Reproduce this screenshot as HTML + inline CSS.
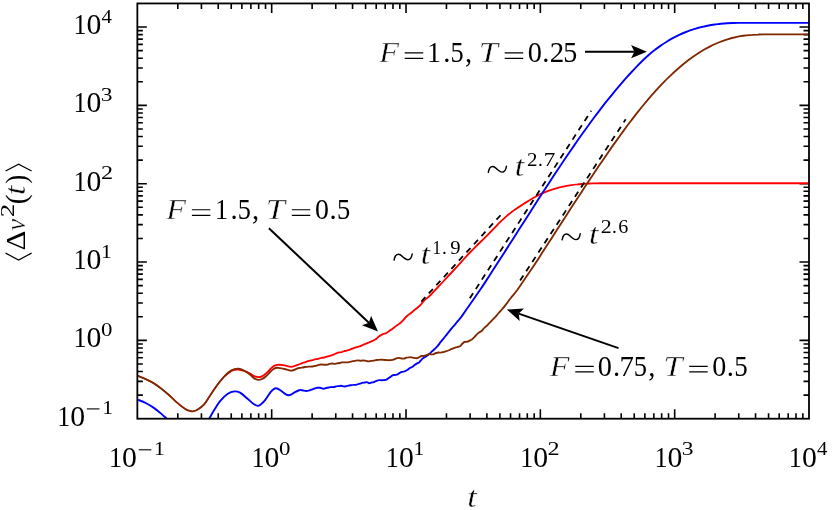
<!DOCTYPE html><html><head><meta charset="utf-8"><title>msd</title><style>html,body{margin:0;padding:0;background:#fff;}svg{display:block;font-family:"Liberation Serif",serif;will-change:transform;}</style></head><body>
<svg width="832" height="510" viewBox="0 0 832 510">
<rect width="832" height="510" fill="#fff"/>
<defs><clipPath id="c"><rect x="137.35" y="3.45" width="671.65" height="415.25"/></clipPath></defs>
<path d="M177.79,418.7 v-5.5 M177.79,3.45 v5.5 M137.35,395.12 h5.5 M809.0,395.12 h-5.5 M201.44,418.7 v-5.5 M201.44,3.45 v5.5 M137.35,381.33 h5.5 M809.0,381.33 h-5.5 M218.22,418.7 v-5.5 M218.22,3.45 v5.5 M137.35,371.54 h5.5 M809.0,371.54 h-5.5 M231.24,418.7 v-5.5 M231.24,3.45 v5.5 M137.35,363.95 h5.5 M809.0,363.95 h-5.5 M241.88,418.7 v-5.5 M241.88,3.45 v5.5 M137.35,357.74 h5.5 M809.0,357.74 h-5.5 M250.87,418.7 v-5.5 M250.87,3.45 v5.5 M137.35,352.50 h5.5 M809.0,352.50 h-5.5 M258.66,418.7 v-5.5 M258.66,3.45 v5.5 M137.35,347.96 h5.5 M809.0,347.96 h-5.5 M265.53,418.7 v-5.5 M265.53,3.45 v5.5 M137.35,343.95 h5.5 M809.0,343.95 h-5.5 M271.68,418.7 v-9.5 M271.68,3.45 v9.5 M137.35,340.37 h9.5 M809.0,340.37 h-9.5 M312.12,418.7 v-5.5 M312.12,3.45 v5.5 M137.35,316.79 h5.5 M809.0,316.79 h-5.5 M335.77,418.7 v-5.5 M335.77,3.45 v5.5 M137.35,302.99 h5.5 M809.0,302.99 h-5.5 M352.55,418.7 v-5.5 M352.55,3.45 v5.5 M137.35,293.20 h5.5 M809.0,293.20 h-5.5 M365.57,418.7 v-5.5 M365.57,3.45 v5.5 M137.35,285.61 h5.5 M809.0,285.61 h-5.5 M376.21,418.7 v-5.5 M376.21,3.45 v5.5 M137.35,279.41 h5.5 M809.0,279.41 h-5.5 M385.20,418.7 v-5.5 M385.20,3.45 v5.5 M137.35,274.17 h5.5 M809.0,274.17 h-5.5 M392.99,418.7 v-5.5 M392.99,3.45 v5.5 M137.35,269.62 h5.5 M809.0,269.62 h-5.5 M399.86,418.7 v-5.5 M399.86,3.45 v5.5 M137.35,265.62 h5.5 M809.0,265.62 h-5.5 M406.01,418.7 v-9.5 M406.01,3.45 v9.5 M137.35,262.03 h9.5 M809.0,262.03 h-9.5 M446.45,418.7 v-5.5 M446.45,3.45 v5.5 M137.35,238.45 h5.5 M809.0,238.45 h-5.5 M470.10,418.7 v-5.5 M470.10,3.45 v5.5 M137.35,224.66 h5.5 M809.0,224.66 h-5.5 M486.88,418.7 v-5.5 M486.88,3.45 v5.5 M137.35,214.87 h5.5 M809.0,214.87 h-5.5 M499.90,418.7 v-5.5 M499.90,3.45 v5.5 M137.35,207.28 h5.5 M809.0,207.28 h-5.5 M510.54,418.7 v-5.5 M510.54,3.45 v5.5 M137.35,201.08 h5.5 M809.0,201.08 h-5.5 M519.53,418.7 v-5.5 M519.53,3.45 v5.5 M137.35,195.83 h5.5 M809.0,195.83 h-5.5 M527.32,418.7 v-5.5 M527.32,3.45 v5.5 M137.35,191.29 h5.5 M809.0,191.29 h-5.5 M534.19,418.7 v-5.5 M534.19,3.45 v5.5 M137.35,187.28 h5.5 M809.0,187.28 h-5.5 M540.34,418.7 v-9.5 M540.34,3.45 v9.5 M137.35,183.70 h9.5 M809.0,183.70 h-9.5 M580.78,418.7 v-5.5 M580.78,3.45 v5.5 M137.35,160.12 h5.5 M809.0,160.12 h-5.5 M604.43,418.7 v-5.5 M604.43,3.45 v5.5 M137.35,146.32 h5.5 M809.0,146.32 h-5.5 M621.21,418.7 v-5.5 M621.21,3.45 v5.5 M137.35,136.54 h5.5 M809.0,136.54 h-5.5 M634.23,418.7 v-5.5 M634.23,3.45 v5.5 M137.35,128.95 h5.5 M809.0,128.95 h-5.5 M644.87,418.7 v-5.5 M644.87,3.45 v5.5 M137.35,122.74 h5.5 M809.0,122.74 h-5.5 M653.86,418.7 v-5.5 M653.86,3.45 v5.5 M137.35,117.50 h5.5 M809.0,117.50 h-5.5 M661.65,418.7 v-5.5 M661.65,3.45 v5.5 M137.35,112.96 h5.5 M809.0,112.96 h-5.5 M668.52,418.7 v-5.5 M668.52,3.45 v5.5 M137.35,108.95 h5.5 M809.0,108.95 h-5.5 M674.67,418.7 v-9.5 M674.67,3.45 v9.5 M137.35,105.36 h9.5 M809.0,105.36 h-9.5 M715.11,418.7 v-5.5 M715.11,3.45 v5.5 M137.35,81.78 h5.5 M809.0,81.78 h-5.5 M738.76,418.7 v-5.5 M738.76,3.45 v5.5 M137.35,67.99 h5.5 M809.0,67.99 h-5.5 M755.54,418.7 v-5.5 M755.54,3.45 v5.5 M137.35,58.20 h5.5 M809.0,58.20 h-5.5 M768.56,418.7 v-5.5 M768.56,3.45 v5.5 M137.35,50.61 h5.5 M809.0,50.61 h-5.5 M779.20,418.7 v-5.5 M779.20,3.45 v5.5 M137.35,44.41 h5.5 M809.0,44.41 h-5.5 M788.19,418.7 v-5.5 M788.19,3.45 v5.5 M137.35,39.16 h5.5 M809.0,39.16 h-5.5 M795.98,418.7 v-5.5 M795.98,3.45 v5.5 M137.35,34.62 h5.5 M809.0,34.62 h-5.5 M802.85,418.7 v-5.5 M802.85,3.45 v5.5 M137.35,30.62 h5.5 M809.0,30.62 h-5.5 M137.35,27.03 h9.5 M809.0,27.03 h-9.5" stroke="#000" stroke-width="1.6" fill="none"/>
<g clip-path="url(#c)" fill="none" stroke-linejoin="round" stroke-linecap="butt">
<path d="M137.2,375.6 C138.6,376.2 143.0,377.9 145.7,379.1 C148.4,380.4 150.9,381.5 153.5,383.1 C156.1,384.7 158.8,386.7 161.4,388.7 C164.0,390.7 166.6,392.9 169.2,395.2 C171.8,397.5 174.4,400.4 177.0,402.6 C179.6,404.9 182.9,407.4 184.9,408.7 C186.9,410.0 187.7,410.2 189.0,410.6 C190.3,411.0 191.3,411.5 192.7,411.4 C194.1,411.2 195.5,411.0 197.4,409.8 C199.3,408.6 202.3,406.4 204.2,404.3 C206.1,402.2 206.9,400.3 209.0,397.2 C211.1,394.1 214.3,389.0 216.9,385.5 C219.5,382.0 223.3,377.7 224.6,376.1" stroke="#ff0000" stroke-width="1.3"/>
<path d="M224.6,376.1 C225.8,375.2 229.6,371.8 231.9,370.7 C234.2,369.6 236.1,369.4 238.2,369.5 C240.3,369.6 242.5,370.3 244.5,371.0 C246.5,371.7 248.4,372.7 250.0,373.6 C251.6,374.5 252.6,375.6 254.0,376.2 C255.4,376.8 257.0,377.1 258.3,377.1 C259.6,377.1 260.8,376.9 262.0,376.3 C263.2,375.7 263.8,375.4 265.7,373.7 C267.6,372.0 271.4,367.8 273.5,366.3 C275.6,364.8 276.4,365.0 278.2,364.8 C280.0,364.6 282.3,365.1 284.5,365.4 C286.7,365.7 289.3,366.9 291.5,366.8 C293.7,366.7 296.1,365.4 297.5,364.9 C298.9,364.4 299.2,364.3 300.0,364.0 C300.8,363.7 301.6,363.5 302.3,363.2 C303.1,362.9 304.0,362.6 304.7,362.4 C305.5,362.1 305.9,361.9 306.6,361.6 C307.4,361.4 308.5,361.0 309.2,360.8 C310.0,360.6 310.6,360.5 311.3,360.3 C312.0,360.2 312.8,360.0 313.6,359.8 C314.3,359.6 315.1,359.4 315.9,359.2 C316.6,359.1 317.1,359.0 317.8,358.8 C318.6,358.6 319.6,358.3 320.5,358.1 C321.3,357.9 322.3,357.8 323.0,357.6 C323.7,357.5 324.2,357.5 324.9,357.3 C325.6,357.1 326.6,356.6 327.3,356.4 C328.0,356.3 328.5,356.4 329.1,356.2 C329.8,356.0 330.6,355.7 331.4,355.4 C332.2,355.1 333.2,354.7 334.1,354.4 C335.0,354.0 335.9,353.5 336.8,353.2 C337.6,352.9 338.5,352.6 339.3,352.4 C340.2,352.3 341.3,352.3 342.0,352.0 C342.8,351.8 343.3,351.3 344.0,351.1 C344.6,350.9 345.3,351.1 346.0,350.9 C346.7,350.8 347.5,350.4 348.2,350.2 C349.0,349.9 349.6,349.7 350.4,349.4 C351.1,349.1 351.8,348.7 352.6,348.5 C353.3,348.2 354.1,348.0 354.9,347.7 C355.8,347.5 356.7,347.2 357.6,346.9 C358.5,346.6 359.4,346.5 360.3,346.1 C361.2,345.8 362.3,345.1 363.1,344.8 C363.8,344.4 364.3,344.3 365.0,344.0 C365.8,343.7 366.9,343.3 367.8,342.9 C368.6,342.6 369.4,342.2 370.1,341.9 C370.9,341.6 371.4,341.5 372.2,341.1 C372.9,340.8 373.8,340.2 374.5,339.8 C375.2,339.4 375.7,339.3 376.4,338.7 C377.2,338.1 378.3,336.8 379.2,336.2 C380.1,335.5 381.0,335.1 381.8,334.7 C382.5,334.3 383.0,334.1 383.7,333.8 C384.5,333.6 385.5,333.5 386.3,333.1 C387.0,332.7 387.5,332.1 388.2,331.7 C388.8,331.2 389.4,330.8 390.0,330.4 C390.7,330.0 391.4,329.6 392.2,329.1 C393.0,328.5 394.0,327.7 394.9,326.9 C395.9,326.2 396.9,325.3 397.7,324.8 C398.5,324.2 399.0,324.0 399.6,323.6 C400.2,323.1 400.8,322.5 401.5,321.9 C402.2,321.2 403.0,320.4 403.7,319.6 C404.4,318.9 404.9,318.0 405.7,317.3 C406.4,316.5 407.4,315.7 408.3,314.9 C409.2,314.2 410.2,313.6 411.0,313.0 C411.9,312.3 412.5,311.7 413.2,311.1 C414.0,310.4 414.8,309.9 415.5,309.2 C416.3,308.6 417.1,307.9 417.9,307.2 C418.7,306.5 419.6,306.0 420.3,305.2 C421.1,304.4 421.8,303.4 422.6,302.4 C423.4,301.5 424.4,300.2 425.1,299.5 C425.9,298.7 426.5,298.5 427.3,297.9 C428.0,297.3 428.9,296.6 429.6,295.9 C430.3,295.3 430.7,294.8 431.4,294.1 C432.1,293.4 433.0,292.3 433.8,291.5 C434.6,290.6 435.5,289.7 436.2,289.0 C436.9,288.2 436.9,288.3 438.1,287.0 C439.4,285.6 440.5,284.5 443.7,281.0 C446.9,277.5 454.2,269.6 457.5,266.1 C460.8,262.5 461.5,261.7 463.5,259.5 C465.5,257.3 467.5,255.1 469.5,253.0 C471.5,250.9 473.5,248.8 475.5,246.8 C477.5,244.8 479.5,242.9 481.5,241.0 C483.5,239.0 485.5,237.1 487.5,235.1 C489.5,233.1 491.5,231.0 493.5,228.9 C495.5,226.9 497.5,224.7 499.5,222.7 C501.5,220.8 503.5,218.9 505.5,217.1 C507.5,215.3 509.5,213.7 511.5,212.1 C513.5,210.6 515.5,209.3 517.5,207.9 C519.5,206.6 521.5,205.3 523.5,204.0 C525.5,202.8 527.5,201.5 529.5,200.3 C531.5,199.0 533.5,197.9 535.5,196.8 C537.5,195.7 539.5,194.7 541.5,193.7 C543.5,192.8 545.5,192.0 547.5,191.2 C549.5,190.4 551.5,189.7 553.5,189.1 C555.5,188.5 557.5,187.9 559.5,187.4 C561.5,186.9 563.5,186.5 565.5,186.1 C567.5,185.7 569.5,185.4 571.5,185.1 C573.5,184.8 575.5,184.6 577.5,184.4 C579.5,184.1 581.5,184.0 583.5,183.8 C585.5,183.7 587.5,183.6 589.5,183.5 C591.5,183.4 593.5,183.4 595.5,183.3 C597.5,183.3 599.5,183.3 601.5,183.2 C603.5,183.2 605.5,183.2 607.5,183.2 C609.5,183.2 611.5,183.2 613.5,183.2 C615.5,183.2 617.5,183.2 619.5,183.2 C621.5,183.2 623.5,183.2 625.5,183.2 C627.5,183.2 629.5,183.2 631.5,183.2 C633.5,183.2 635.5,183.2 637.5,183.2 C639.5,183.2 641.5,183.2 643.5,183.2 C645.5,183.2 648.4,183.2 649.5,183.2 C650.6,183.2 623.4,183.2 650.0,183.2 C676.6,183.2 782.5,183.2 809.0,183.2" stroke="#ff0000" stroke-width="1.85"/>
<path d="M137.2,399.5 C138.6,400.1 143.0,401.6 145.7,403.0 C148.4,404.4 150.9,405.8 153.5,407.6 C156.1,409.4 159.3,412.1 161.4,413.9 C163.5,415.7 164.9,417.0 166.3,418.2 C167.7,419.4 166.1,418.2 170.0,421.0 C173.9,423.8 184.1,434.3 190.0,435.0 C195.9,435.7 202.3,427.8 205.5,425.0 C208.7,422.2 207.9,421.0 209.3,418.5 C210.8,416.0 212.3,413.0 214.2,410.0 C216.1,407.0 218.2,403.3 220.5,400.6 C222.8,397.9 225.5,395.2 227.8,393.7 C230.1,392.2 232.5,391.6 234.5,391.4 C236.5,391.2 237.8,391.5 240.0,392.7 C242.2,393.9 245.4,397.0 247.6,398.8 C249.8,400.6 251.3,402.3 253.0,403.5 C254.7,404.7 256.5,405.8 257.8,405.9 C259.1,406.0 259.8,405.1 261.0,404.2 C262.2,403.3 263.2,402.5 264.9,400.4 C266.6,398.3 269.2,393.7 271.0,391.7 C272.8,389.7 274.2,388.4 275.9,388.3 C277.6,388.2 279.8,390.0 281.4,391.0 C283.0,392.0 284.3,393.4 285.5,394.1 C286.7,394.8 287.6,395.2 288.6,395.2 C289.6,395.2 290.6,394.8 291.6,394.3 C292.6,393.8 293.2,393.0 294.6,392.3 C296.0,391.6 298.8,390.3 300.0,390.0 C301.2,389.6 301.3,390.2 302.0,390.3 C302.6,390.4 303.2,390.5 303.9,390.6 C304.6,390.8 305.3,391.0 306.1,391.0 C306.8,391.0 307.6,390.9 308.4,390.7 C309.1,390.5 309.9,390.1 310.6,389.9 C311.3,389.7 311.8,389.6 312.5,389.3 C313.3,389.0 314.4,388.6 315.1,388.3 C315.9,388.1 316.4,387.9 317.2,387.8 C318.0,387.7 319.1,387.7 319.9,387.8 C320.7,387.9 321.4,388.2 322.1,388.4 C322.8,388.5 323.3,388.8 324.0,388.7 C324.6,388.6 325.4,388.1 326.1,388.0 C326.8,387.8 327.3,387.8 328.0,387.7 C328.8,387.5 329.8,387.2 330.6,387.1 C331.5,387.0 332.2,387.1 333.0,387.1 C333.8,387.0 334.5,386.9 335.2,386.8 C335.9,386.6 336.4,386.2 337.1,386.1 C337.7,386.0 338.4,386.2 339.1,386.1 C339.8,386.0 340.6,385.7 341.3,385.7 C342.1,385.8 343.0,386.3 343.7,386.4 C344.5,386.5 345.1,386.5 345.8,386.4 C346.6,386.3 347.5,385.8 348.3,385.6 C349.1,385.4 349.9,385.3 350.7,385.2 C351.5,385.1 352.5,384.9 353.3,384.9 C354.1,384.8 354.8,385.0 355.4,384.9 C356.1,384.8 356.6,384.6 357.4,384.4 C358.1,384.2 359.1,384.0 359.9,383.7 C360.7,383.4 361.4,383.0 362.2,382.8 C363.0,382.6 363.9,382.6 364.7,382.5 C365.5,382.4 366.3,382.0 367.0,382.1 C367.8,382.2 368.4,383.1 369.2,383.2 C369.9,383.2 370.8,382.7 371.5,382.5 C372.3,382.3 373.0,382.4 373.8,382.1 C374.6,381.8 375.7,381.1 376.5,380.8 C377.4,380.4 378.1,380.1 379.0,380.1 C379.8,380.0 380.6,380.3 381.5,380.3 C382.3,380.3 383.4,380.1 384.2,380.0 C385.0,379.9 385.6,380.0 386.3,379.7 C387.1,379.3 388.0,378.5 388.8,378.0 C389.6,377.5 390.3,377.0 391.0,376.5 C391.7,376.0 392.2,375.3 393.0,375.1 C393.7,374.8 394.8,375.1 395.5,374.9 C396.3,374.8 396.8,374.8 397.6,374.4 C398.4,374.0 399.4,373.0 400.2,372.6 C401.0,372.1 401.7,372.0 402.5,371.8 C403.3,371.6 404.3,371.5 405.1,371.2 C406.0,370.8 407.0,370.1 407.8,369.6 C408.6,369.1 409.2,368.5 410.0,368.0 C410.8,367.5 411.9,367.2 412.7,366.7 C413.4,366.2 414.0,365.4 414.6,364.9 C415.3,364.4 416.0,364.0 416.7,363.6 C417.4,363.2 418.2,363.1 419.0,362.5 C419.7,361.9 420.3,360.8 421.1,360.1 C421.8,359.3 422.5,358.6 423.3,358.0 C424.0,357.4 424.8,357.1 425.6,356.6 C426.4,356.1 427.3,355.5 428.1,354.9 C428.9,354.3 429.8,353.5 430.5,352.9 C431.2,352.2 431.7,351.7 432.4,351.0 C433.2,350.4 434.1,349.5 435.0,348.7 C435.8,347.9 436.7,347.1 437.5,346.2 C438.3,345.3 439.0,344.2 439.7,343.2 C440.5,342.2 441.5,341.0 442.2,340.1 C442.9,339.2 443.4,338.5 444.1,337.8 C444.7,337.0 445.4,336.2 446.1,335.4 C446.7,334.6 447.3,333.7 448.0,332.9 C448.6,332.1 449.2,331.4 449.9,330.5 C450.6,329.7 451.3,328.8 452.1,327.8 C452.9,326.9 454.0,325.8 454.8,324.9 C455.5,324.0 456.0,323.2 456.7,322.4 C457.4,321.5 458.2,320.6 458.9,319.8 C459.6,318.9 460.1,318.5 460.8,317.5 C461.6,316.5 462.8,314.8 463.6,313.6 C464.4,312.4 465.2,311.3 465.9,310.2 C466.6,309.2 467.1,308.4 467.8,307.5 C468.5,306.5 467.7,307.6 469.9,304.5 C472.0,301.4 477.9,293.1 480.7,289.0 C483.5,284.9 484.7,282.9 486.7,279.9 C488.7,276.8 490.7,273.7 492.7,270.6 C494.7,267.5 496.7,264.4 498.7,261.3 C500.7,258.2 502.7,255.1 504.7,252.0 C506.7,248.8 508.7,245.7 510.7,242.6 C512.7,239.4 514.7,236.3 516.7,233.2 C518.7,230.0 520.7,226.9 522.7,223.8 C524.7,220.6 526.7,217.5 528.7,214.4 C530.7,211.3 532.7,208.1 534.7,205.0 C536.7,201.9 538.7,198.8 540.7,195.7 C542.7,192.6 544.7,189.5 546.7,186.5 C548.7,183.4 550.7,180.4 552.7,177.3 C554.7,174.3 556.7,171.3 558.7,168.3 C560.7,165.3 562.7,162.3 564.7,159.3 C566.7,156.3 568.7,153.4 570.7,150.5 C572.7,147.6 574.7,144.7 576.7,141.8 C578.7,138.9 580.7,136.1 582.7,133.3 C584.7,130.5 586.7,127.7 588.7,125.0 C590.7,122.2 592.7,119.5 594.7,116.8 C596.7,114.2 598.7,111.5 600.7,108.9 C602.7,106.3 604.7,103.7 606.7,101.2 C608.7,98.7 610.7,96.2 612.7,93.8 C614.7,91.3 616.7,88.9 618.7,86.6 C620.7,84.2 622.7,81.9 624.7,79.6 C626.7,77.4 628.7,75.1 630.7,73.0 C632.7,70.8 634.7,68.7 636.7,66.6 C638.7,64.5 640.7,62.4 642.7,60.5 C644.7,58.6 646.7,56.7 648.7,55.0 C650.7,53.2 652.7,51.6 654.7,50.1 C656.7,48.5 658.7,47.0 660.7,45.6 C662.7,44.2 664.7,42.9 666.7,41.7 C668.7,40.4 670.7,39.3 672.7,38.2 C674.7,37.1 676.7,36.1 678.7,35.1 C680.7,34.2 682.7,33.3 684.7,32.5 C686.7,31.7 688.7,30.9 690.7,30.2 C692.7,29.5 694.7,28.9 696.7,28.3 C698.7,27.8 700.7,27.2 702.7,26.8 C704.7,26.3 706.7,25.9 708.7,25.5 C710.7,25.1 712.7,24.8 714.7,24.5 C716.7,24.3 718.7,24.0 720.7,23.8 C722.7,23.6 724.7,23.4 726.7,23.3 C728.7,23.2 730.7,23.1 732.7,23.0 C734.7,22.9 736.7,22.9 738.7,22.9 C740.7,22.9 742.7,22.9 744.7,22.9 C746.7,22.9 748.7,22.9 750.7,22.9 C752.7,22.9 754.7,22.9 756.7,22.9 C758.7,22.9 760.7,22.9 762.7,22.9 C764.7,22.9 766.7,22.9 768.7,22.9 C770.7,22.9 772.7,22.9 774.7,22.9 C776.7,22.9 778.7,22.9 780.7,22.9 C782.7,22.9 785.2,22.9 786.7,22.9 C788.2,22.9 786.3,22.9 790.0,22.9 C793.7,22.9 805.8,22.9 809.0,22.9" stroke="#0000ff" stroke-width="1.9"/>
<path d="M137.2,375.6 C138.6,376.2 143.0,377.9 145.7,379.1 C148.4,380.4 150.9,381.5 153.5,383.1 C156.1,384.7 158.8,386.7 161.4,388.7 C164.0,390.7 166.6,392.9 169.2,395.2 C171.8,397.5 174.4,400.4 177.0,402.6 C179.6,404.9 182.9,407.4 184.9,408.7 C186.9,410.0 187.7,410.2 189.0,410.6 C190.3,411.0 191.3,411.5 192.7,411.4 C194.1,411.2 195.5,411.0 197.4,409.8 C199.3,408.6 202.3,406.4 204.2,404.3 C206.1,402.2 206.9,400.3 209.0,397.2 C211.1,394.1 214.3,389.0 216.9,385.5 C219.5,382.0 222.1,378.7 224.6,376.1 C227.1,373.5 229.6,371.3 231.9,370.1 C234.2,368.9 236.1,368.6 238.2,368.7 C240.3,368.8 242.5,369.8 244.5,370.8 C246.5,371.8 248.4,373.4 250.0,374.6 C251.6,375.8 252.6,377.3 254.0,378.2 C255.4,379.1 257.0,379.8 258.3,379.9 C259.6,380.0 260.8,379.6 262.0,379.0 C263.2,378.4 263.8,378.2 265.7,376.5 C267.6,374.8 271.4,370.4 273.5,369.0 C275.6,367.6 276.4,367.8 278.2,367.8 C280.0,367.8 282.3,368.5 284.5,369.0 C286.7,369.5 289.3,370.8 291.5,370.7 C293.7,370.6 296.1,368.9 297.5,368.4 C298.9,367.9 299.2,368.1 300.0,367.9 C300.8,367.8 301.7,367.6 302.5,367.5 C303.4,367.3 304.3,367.2 305.2,367.0 C306.1,366.9 307.1,366.7 307.9,366.7 C308.7,366.6 309.4,366.6 310.2,366.6 C311.0,366.6 311.9,366.6 312.6,366.5 C313.4,366.4 313.9,366.2 314.6,366.0 C315.2,365.9 315.9,365.8 316.6,365.6 C317.4,365.4 318.3,365.0 319.0,364.8 C319.7,364.7 320.3,364.5 321.0,364.5 C321.8,364.5 322.9,364.6 323.7,364.7 C324.5,364.7 325.1,364.8 325.7,364.7 C326.4,364.7 327.0,364.7 327.7,364.6 C328.3,364.4 328.9,364.0 329.6,363.9 C330.4,363.7 331.5,363.5 332.3,363.5 C333.1,363.5 333.5,363.9 334.3,363.9 C335.1,363.9 336.1,363.5 337.0,363.3 C337.9,363.2 338.8,363.2 339.7,363.0 C340.5,362.9 341.3,362.5 342.1,362.4 C343.0,362.3 343.9,362.4 344.9,362.4 C345.8,362.4 346.8,362.5 347.6,362.4 C348.4,362.3 349.0,362.0 349.7,361.9 C350.4,361.7 351.0,361.5 351.7,361.4 C352.3,361.2 352.9,361.2 353.6,361.1 C354.3,361.0 355.2,360.7 356.0,360.6 C356.8,360.5 357.7,360.4 358.4,360.4 C359.2,360.4 359.8,360.7 360.6,360.7 C361.3,360.7 362.1,360.5 362.9,360.5 C363.6,360.5 364.4,360.6 365.1,360.7 C365.8,360.8 366.4,361.1 367.0,361.2 C367.7,361.3 368.1,361.4 368.9,361.4 C369.6,361.3 370.6,361.0 371.5,360.9 C372.4,360.8 373.3,360.7 374.1,360.6 C374.9,360.5 375.7,360.2 376.4,360.0 C377.2,359.9 377.6,359.9 378.3,359.9 C379.1,359.8 380.2,359.6 381.0,359.6 C381.9,359.6 382.7,359.9 383.6,359.9 C384.5,360.0 385.5,359.9 386.3,360.0 C387.1,360.0 387.7,360.2 388.5,360.2 C389.2,360.2 390.2,360.2 391.0,360.1 C391.9,360.0 392.7,359.9 393.5,359.6 C394.4,359.4 395.3,358.7 396.2,358.3 C397.1,358.0 398.1,357.8 398.9,357.8 C399.7,357.8 400.2,358.3 401.0,358.4 C401.8,358.5 402.8,358.7 403.7,358.6 C404.6,358.5 405.6,357.8 406.4,357.6 C407.2,357.4 407.8,357.4 408.5,357.4 C409.2,357.3 409.9,357.1 410.5,357.2 C411.2,357.2 411.7,357.4 412.5,357.6 C413.3,357.7 414.5,358.0 415.3,358.1 C416.0,358.2 416.5,358.4 417.2,358.2 C417.9,358.0 418.8,357.4 419.5,357.0 C420.2,356.6 420.8,356.2 421.5,356.0 C422.3,355.8 423.3,356.1 424.1,355.9 C425.0,355.7 425.6,355.3 426.4,355.0 C427.2,354.7 428.2,354.2 429.1,354.1 C429.9,354.0 430.6,354.3 431.4,354.4 C432.1,354.4 432.5,354.5 433.3,354.3 C434.1,354.1 435.1,353.3 436.0,353.0 C436.9,352.8 437.8,352.6 438.6,352.5 C439.4,352.4 440.0,352.7 440.8,352.6 C441.6,352.6 442.6,352.3 443.4,352.1 C444.3,351.8 444.9,351.6 445.7,351.3 C446.5,351.1 447.5,350.8 448.3,350.5 C449.1,350.2 449.8,349.8 450.6,349.4 C451.4,349.1 452.3,348.7 453.1,348.4 C453.9,348.1 454.5,347.8 455.2,347.6 C455.9,347.4 456.4,347.3 457.2,347.0 C458.0,346.8 459.1,346.7 459.9,346.2 C460.8,345.6 461.6,344.4 462.3,343.7 C463.1,343.0 463.8,342.3 464.5,341.9 C465.2,341.6 465.8,342.0 466.6,341.9 C467.4,341.7 468.4,341.3 469.2,340.9 C470.1,340.5 470.9,340.2 471.8,339.6 C472.6,339.0 473.4,338.1 474.3,337.2 C475.1,336.3 476.0,335.1 476.8,334.3 C477.6,333.5 478.5,332.9 479.3,332.3 C480.1,331.8 480.8,331.7 481.6,331.0 C482.4,330.3 483.2,328.9 484.1,328.1 C484.9,327.2 485.9,326.7 486.8,325.9 C487.6,325.0 488.4,324.1 489.1,323.2 C489.9,322.4 490.7,321.7 491.5,320.9 C492.3,320.1 493.1,319.3 493.9,318.4 C494.8,317.5 495.7,316.6 496.5,315.6 C497.4,314.6 498.3,313.5 499.1,312.5 C499.9,311.6 500.7,310.9 501.5,310.0 C502.4,309.0 503.3,308.0 504.1,306.9 C505.0,305.8 505.9,304.5 506.8,303.4 C507.6,302.2 508.4,301.1 509.2,300.0 C510.1,298.8 511.1,297.6 511.9,296.6 C512.8,295.6 513.5,294.8 514.3,293.8 C515.1,292.8 516.1,291.6 516.9,290.5 C517.7,289.4 515.9,291.9 519.2,287.2 C522.4,282.4 532.4,267.7 536.3,262.0 C540.2,256.2 540.3,255.7 542.3,252.6 C544.3,249.5 546.3,246.4 548.3,243.3 C550.3,240.2 552.3,237.1 554.3,234.0 C556.3,230.9 558.3,227.8 560.3,224.7 C562.3,221.6 564.3,218.5 566.3,215.4 C568.3,212.3 570.3,209.2 572.3,206.1 C574.3,203.1 576.3,200.0 578.3,197.0 C580.3,193.9 582.3,190.9 584.3,187.8 C586.3,184.8 588.3,181.8 590.3,178.8 C592.3,175.8 594.3,172.8 596.3,169.8 C598.3,166.8 600.3,163.9 602.3,160.9 C604.3,158.0 606.3,155.1 608.3,152.2 C610.3,149.3 612.3,146.4 614.3,143.6 C616.3,140.8 618.3,138.0 620.3,135.2 C622.3,132.5 624.3,129.7 626.3,127.0 C628.3,124.4 630.3,121.7 632.3,119.1 C634.3,116.5 636.3,113.9 638.3,111.4 C640.3,108.9 642.3,106.4 644.3,104.0 C646.3,101.6 648.3,99.2 650.3,96.9 C652.3,94.6 654.3,92.4 656.3,90.2 C658.3,88.0 660.3,85.8 662.3,83.7 C664.3,81.7 666.3,79.6 668.3,77.7 C670.3,75.7 672.3,73.9 674.3,72.0 C676.3,70.2 678.3,68.4 680.3,66.7 C682.3,65.0 684.3,63.4 686.3,61.8 C688.3,60.2 690.3,58.7 692.3,57.3 C694.3,55.8 696.3,54.5 698.3,53.2 C700.3,51.9 702.3,50.7 704.3,49.5 C706.3,48.4 708.3,47.3 710.3,46.3 C712.3,45.3 714.3,44.4 716.3,43.5 C718.3,42.6 720.3,41.8 722.3,41.1 C724.3,40.4 726.3,39.7 728.3,39.1 C730.3,38.5 732.3,37.9 734.3,37.5 C736.3,37.0 738.3,36.6 740.3,36.2 C742.3,35.9 744.3,35.6 746.3,35.3 C748.3,35.1 750.3,34.9 752.3,34.8 C754.3,34.6 756.3,34.5 758.3,34.5 C760.3,34.4 762.3,34.4 764.3,34.4 C766.3,34.4 768.3,34.4 770.3,34.4 C772.3,34.4 774.3,34.4 776.3,34.4 C778.3,34.4 780.3,34.4 782.3,34.4 C784.3,34.4 786.3,34.4 788.3,34.4 C790.3,34.4 792.3,34.4 794.3,34.4 C796.2,34.4 797.5,34.4 800.0,34.4 C802.5,34.4 807.5,34.4 809.0,34.4" stroke="#802800" stroke-width="1.85"/>
<path d="M421.3,301.6 L500.6,215.2" stroke="#000" stroke-width="1.8" stroke-dasharray="6 5.12"/>
<path d="M469.8,298.3 L591.2,110.8" stroke="#000" stroke-width="1.8" stroke-dasharray="6 5.12"/>
<path d="M520.1,280.5 L625.7,119.3" stroke="#000" stroke-width="1.8" stroke-dasharray="6 5.12"/>
</g>
<rect x="137.35" y="3.45" width="671.65" height="415.25" fill="none" stroke="#000" stroke-width="1.8"/>
<path d="M585.0,51.7 L634.4,51.7" stroke="#000" stroke-width="2" fill="none"/><path d="M646.9,51.7 L631.1,58.3 L634.4,51.7 L631.1,45.1 Z" fill="#000"/>
<path d="M268.9,228.2 L368.9,322.8" stroke="#000" stroke-width="2" fill="none"/><path d="M378.0,331.4 L362.0,325.3 L368.9,322.8 L371.1,315.7 Z" fill="#000"/>
<path d="M618.5,348.1 L518.7,313.6" stroke="#000" stroke-width="2" fill="none"/><path d="M506.9,309.5 L524.0,308.4 L518.7,313.6 L519.7,320.9 Z" fill="#000"/>
<text transform="translate(109.05,466.60) scale(0.9137,1)" font-size="28.6">1</text><text transform="translate(122.12,466.60) scale(1.0395,1)" font-size="28.6">0</text><path d="M138.75,449.80 h12.6" stroke="#000" stroke-width="1.1" fill="none"/><text transform="translate(154.05,455.10) scale(1.1185,1)" font-size="19.3">1</text>
<text transform="translate(251.53,466.60) scale(0.9137,1)" font-size="28.6">1</text><text transform="translate(264.60,466.60) scale(1.0395,1)" font-size="28.6">0</text><text transform="translate(279.11,455.10) scale(1.1858,1)" font-size="19.3">0</text>
<text transform="translate(385.86,466.60) scale(0.9137,1)" font-size="28.6">1</text><text transform="translate(398.93,466.60) scale(1.0395,1)" font-size="28.6">0</text><text transform="translate(413.46,455.10) scale(1.1185,1)" font-size="19.3">1</text>
<text transform="translate(520.19,466.60) scale(0.9137,1)" font-size="28.6">1</text><text transform="translate(533.26,466.60) scale(1.0395,1)" font-size="28.6">0</text><text transform="translate(547.58,455.10) scale(1.2537,1)" font-size="19.3">2</text>
<text transform="translate(654.52,466.60) scale(0.9137,1)" font-size="28.6">1</text><text transform="translate(667.59,466.60) scale(1.0395,1)" font-size="28.6">0</text><text transform="translate(681.85,455.10) scale(1.2167,1)" font-size="19.3">3</text>
<text transform="translate(788.85,466.60) scale(0.9137,1)" font-size="28.6">1</text><text transform="translate(801.92,466.60) scale(1.0395,1)" font-size="28.6">0</text><text transform="translate(816.89,455.10) scale(1.0812,1)" font-size="19.3">4</text>
<text transform="translate(57.20,425.70) scale(0.9137,1)" font-size="28.6">1</text><text transform="translate(70.27,425.70) scale(1.0395,1)" font-size="28.6">0</text><path d="M86.90,408.90 h12.6" stroke="#000" stroke-width="1.1" fill="none"/><text transform="translate(102.20,414.20) scale(1.1185,1)" font-size="19.3">1</text>
<text transform="translate(73.50,347.37) scale(0.9137,1)" font-size="28.6">1</text><text transform="translate(86.57,347.37) scale(1.0395,1)" font-size="28.6">0</text><text transform="translate(101.08,335.87) scale(1.1858,1)" font-size="19.3">0</text>
<text transform="translate(73.50,269.03) scale(0.9137,1)" font-size="28.6">1</text><text transform="translate(86.57,269.03) scale(1.0395,1)" font-size="28.6">0</text><text transform="translate(101.10,257.53) scale(1.1185,1)" font-size="19.3">1</text>
<text transform="translate(73.50,190.70) scale(0.9137,1)" font-size="28.6">1</text><text transform="translate(86.57,190.70) scale(1.0395,1)" font-size="28.6">0</text><text transform="translate(100.89,179.20) scale(1.2537,1)" font-size="19.3">2</text>
<text transform="translate(73.50,112.36) scale(0.9137,1)" font-size="28.6">1</text><text transform="translate(86.57,112.36) scale(1.0395,1)" font-size="28.6">0</text><text transform="translate(100.83,100.86) scale(1.2167,1)" font-size="19.3">3</text>
<text transform="translate(73.50,34.03) scale(0.9137,1)" font-size="28.6">1</text><text transform="translate(86.57,34.03) scale(1.0395,1)" font-size="28.6">0</text><text transform="translate(101.54,22.53) scale(1.0812,1)" font-size="19.3">4</text>
<text transform="translate(467.29,506.60) scale(1.1346,1)" font-size="30.2" font-style="italic" stroke="#fff" stroke-width="0.35">t</text>
<g transform="translate(25.2,262) rotate(-90)"><path d="M8.9,-19.6 L2.0,-6.6 L8.9,6.4" fill="none" stroke="#000" stroke-width="1.2"/><text transform="translate(11.52,0.00) scale(1.1489,1)" font-size="27.0">Δ</text><text transform="translate(31.44,0.00) scale(0.9729,1)" font-size="27.0" font-style="italic" stroke="#fff" stroke-width="0.35">v</text><text transform="translate(44.82,-11.30) scale(1.3959,1)" font-size="19.3">2</text><text transform="translate(57.70,0.50) scale(1.0204,1)" font-size="29.0">(</text><text transform="translate(67.01,0.00) scale(1.1215,1)" font-size="30.2" font-style="italic" stroke="#fff" stroke-width="0.35">t</text><text transform="translate(78.32,0.50) scale(0.9398,1)" font-size="29.0">)</text><path d="M91.0,-19.6 L97.9,-6.6 L91.0,6.4" fill="none" stroke="#000" stroke-width="1.2"/></g>
<text transform="translate(379.17,62.00) scale(1.1154,1)" font-size="29.0" font-style="italic" stroke="#fff" stroke-width="0.4">F</text><path d="M404.70,52.80 h18.5 M404.70,58.40 h18.5" stroke="#000" stroke-width="1.15" fill="none"/><text transform="translate(427.05,62.00) scale(0.9733,1)" font-size="28.6">1</text><text x="443.23" y="62.00" font-size="28.6">.</text><text transform="translate(450.47,62.00) scale(0.9201,1)" font-size="28.6">5</text><text x="465.03" y="62.00" font-size="28.6">,</text>
<text transform="translate(478.64,62.00) scale(1.1916,1)" font-size="29.0" font-style="italic" stroke="#fff" stroke-width="0.45">T</text><path d="M504.70,52.80 h18.5 M504.70,58.40 h18.5" stroke="#000" stroke-width="1.15" fill="none"/><text transform="translate(527.72,62.00) scale(0.9900,1)" font-size="28.6">0</text><text x="542.22" y="62.00" font-size="28.6">.</text><text transform="translate(549.63,62.00) scale(1.0118,1)" font-size="28.6">2</text><text transform="translate(563.37,62.00) scale(0.9808,1)" font-size="28.6">5</text>
<text transform="translate(166.37,218.90) scale(1.1154,1)" font-size="29.0" font-style="italic" stroke="#fff" stroke-width="0.4">F</text><path d="M191.90,209.70 h18.5 M191.90,215.30 h18.5" stroke="#000" stroke-width="1.15" fill="none"/><text transform="translate(215.10,218.90) scale(0.9137,1)" font-size="28.6">1</text><text x="230.43" y="218.90" font-size="28.6">.</text><text transform="translate(237.67,218.90) scale(0.9201,1)" font-size="28.6">5</text><text x="252.08" y="218.90" font-size="28.6">,</text>
<text transform="translate(265.74,218.90) scale(1.1916,1)" font-size="29.0" font-style="italic" stroke="#fff" stroke-width="0.45">T</text><path d="M291.80,209.70 h18.5 M291.80,215.30 h18.5" stroke="#000" stroke-width="1.15" fill="none"/><text transform="translate(314.94,218.90) scale(0.9735,1)" font-size="28.6">0</text><text x="329.62" y="218.90" font-size="28.6">.</text><text transform="translate(336.96,218.90) scale(0.9287,1)" font-size="28.6">5</text>
<text transform="translate(549.77,375.50) scale(1.1154,1)" font-size="29.0" font-style="italic" stroke="#fff" stroke-width="0.4">F</text><path d="M575.30,366.30 h18.5 M575.30,371.90 h18.5" stroke="#000" stroke-width="1.15" fill="none"/><text transform="translate(597.72,375.50) scale(0.9900,1)" font-size="28.6">0</text><text x="613.12" y="375.50" font-size="28.6">.</text><text transform="translate(619.50,375.50) scale(1.0094,1)" font-size="28.6">7</text><text transform="translate(633.66,375.50) scale(0.9287,1)" font-size="28.6">5</text><text x="648.23" y="375.50" font-size="28.6">,</text>
<text transform="translate(663.14,375.50) scale(1.1916,1)" font-size="29.0" font-style="italic" stroke="#fff" stroke-width="0.45">T</text><path d="M689.20,366.30 h18.5 M689.20,371.90 h18.5" stroke="#000" stroke-width="1.15" fill="none"/><text transform="translate(712.13,375.50) scale(0.9817,1)" font-size="28.6">0</text><text x="726.83" y="375.50" font-size="28.6">.</text><text transform="translate(734.13,375.50) scale(0.9461,1)" font-size="28.6">5</text>
<path transform="translate(403.20,257.20)" d="M-9.1,2.8 C-8.6,0.2 -7.2,-3.0 -4.8,-3.0 C-2.4,-3.0 -1.4,-1.1 0,0 C1.4,1.1 2.6,2.6 4.7,2.6 C7.0,2.6 8.5,0.0 9.0,-3.2" fill="none" stroke="#000" stroke-width="1.45" stroke-linecap="round"/><text transform="translate(420.81,264.00) scale(1.1215,1)" font-size="30.2" font-style="italic" stroke="#fff" stroke-width="0.35">t</text><text transform="translate(432.38,254.10) scale(0.8978,1)" font-size="19.3">1</text><text x="441.89" y="254.10" font-size="19.3">.</text><text transform="translate(450.34,254.10) scale(1.0684,1)" font-size="19.3">9</text>
<path transform="translate(497.40,169.50)" d="M-9.1,2.8 C-8.6,0.2 -7.2,-3.0 -4.8,-3.0 C-2.4,-3.0 -1.4,-1.1 0,0 C1.4,1.1 2.6,2.6 4.7,2.6 C7.0,2.6 8.5,0.0 9.0,-3.2" fill="none" stroke="#000" stroke-width="1.45" stroke-linecap="round"/><text transform="translate(514.79,176.30) scale(1.1346,1)" font-size="30.2" font-style="italic" stroke="#fff" stroke-width="0.35">t</text><text transform="translate(527.08,166.10) scale(1.0857,1)" font-size="19.3">2</text><text x="538.09" y="166.10" font-size="19.3">.</text><text transform="translate(543.87,166.10) scale(1.2018,1)" font-size="19.3">7</text>
<path transform="translate(571.20,237.00)" d="M-9.1,2.8 C-8.6,0.2 -7.2,-3.0 -4.8,-3.0 C-2.4,-3.0 -1.4,-1.1 0,0 C1.4,1.1 2.6,2.6 4.7,2.6 C7.0,2.6 8.5,0.0 9.0,-3.2" fill="none" stroke="#000" stroke-width="1.45" stroke-linecap="round"/><text transform="translate(589.01,243.50) scale(1.1215,1)" font-size="30.2" font-style="italic" stroke="#fff" stroke-width="0.35">t</text><text transform="translate(600.84,233.10) scale(1.1374,1)" font-size="19.3">2</text><text x="611.89" y="233.10" font-size="19.3">.</text><text transform="translate(618.34,233.10) scale(1.0429,1)" font-size="19.3">6</text>
</svg></body></html>
